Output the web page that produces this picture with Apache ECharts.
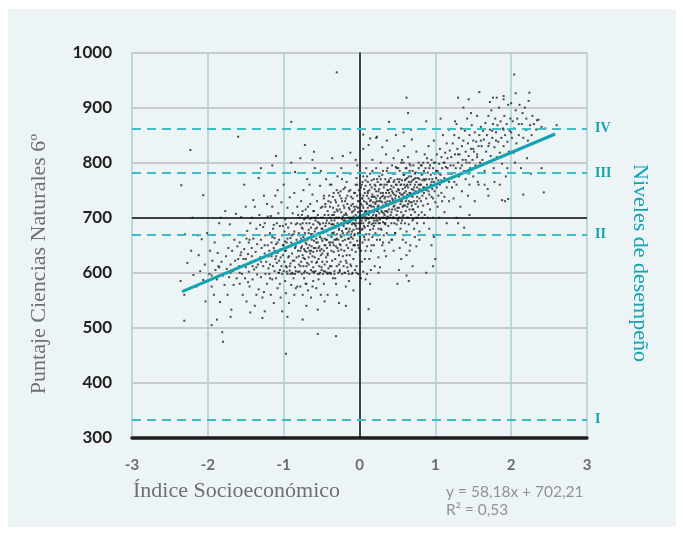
<!DOCTYPE html>
<html><head><meta charset="utf-8">
<script src="https://cdn.jsdelivr.net/npm/echarts@6/dist/echarts.min.js"></script>
<style>
html,body{margin:0;padding:0;background:#fff;}
#panel{position:absolute;left:8px;top:9px;width:668px;height:518px;background:#edf4f6;}
#chart{position:absolute;left:0;top:0;width:683px;height:535px;}
</style></head>
<body><div id="panel"></div><div id="chart"></div>
<script>
// axis ticks
const xTicks = [-3,-2,-1,0,1,2,3];
const yTicks = [300,400,500,600,700,800,900,1000];
// performance levels
const levelNames = ['I','II','III','IV'];
const levelValues = [333, 669, 781, 862];
// regression line (y = 58,18x + 702,21) endpoints
const trendX = [-2.34, 2.58];
const trendY = [566, 852];
const equationText = ['y = 58,18x + 702,21', 'R² = 0,53'];
// scatter points [index, score], grouped by index range
const ptsA = [[-2.36,585],[-2.31,560],[-2.27,618],[-2.22,640],[-2.19,596],[-2.15,575],[-2.12,632],[-2.1,603],[-2.08,661],[-2.06,587],[-2.04,615],[-2.03,548],[-2.01,672],[-2.2,700],[-2.13,668],
[-1.98,598],[-1.97,640],[-1.95,575],[-1.94,622],[-1.92,560],[-1.91,655],[-1.9,605],[-1.88,588],[-1.87,636],[-1.86,612],[-1.84,547],[-1.83,700],[-1.82,620],[-1.8,595],[-1.79,668],[-1.78,578],[-1.76,630],[-1.75,607],[-1.74,560],[-1.73,645],[-1.72,592],[-1.71,688],[-1.7,615],[-1.69,533],[-1.68,640],[-1.67,603],[-1.66,578],[-1.65,660],[-1.64,622],[-1.63,707],[-1.62,590],[-1.61,648],[-1.95,505],[-1.88,515],[-1.77,712]];
const ptsB = [[-1.59,612],[-1.58,655],[-1.58,580],[-1.57,632],[-1.56,701],[-1.55,598],[-1.54,560],[-1.54,668],[-1.53,625],[-1.52,643],[-1.51,590],[-1.5,720],[-1.5,610],[-1.49,548],[-1.48,676],[-1.47,634],[-1.46,602],[-1.46,655],[-1.45,575],[-1.44,690],[-1.43,620],[-1.42,645],[-1.41,588],[-1.4,732],[-1.4,662],[-1.39,606],[-1.38,540],[-1.37,638],[-1.36,680],[-1.35,597],[-1.35,652],[-1.34,615],[-1.33,570],[-1.32,705],[-1.31,628],[-1.3,660],[-1.3,592],[-1.29,645],[-1.28,555],[-1.27,683],[-1.27,612],[-1.26,740],[-1.25,635],[-1.24,598],[-1.24,668],[-1.23,620],[-1.22,580],[-1.21,650],[-1.21,702],[-1.2,608],[-1.52,760],[-1.44,528],[-1.33,772],[-1.28,518],[-1.38,720],[-1.47,583],[-1.42,700],[-1.36,560],[-1.31,687],[-1.26,565],[-1.22,725],[-1.56,637],[-1.49,662],[-1.41,612],[-1.25,690]];
const ptsC = [[-1.19,640],[-1.19,598],[-1.18,672],[-1.18,615],[-1.17,560],[-1.17,703],[-1.16,630],[-1.16,655],[-1.15,588],[-1.15,720],[-1.14,612],[-1.14,680],[-1.13,645],[-1.13,545],[-1.12,603],[-1.12,663],[-1.11,625],[-1.11,740],[-1.1,590],[-1.1,652],[-1.09,690],[-1.09,618],[-1.08,572],[-1.08,636],[-1.07,708],[-1.07,600],[-1.06,660],[-1.06,622],[-1.05,580],[-1.05,685],[-1.04,643],[-1.04,555],[-1.03,612],[-1.03,728],[-1.02,668],[-1.02,598],[-1.01,632],[-1.01,650],[-1.0,603],[-1.0,760],[-0.99,675],[-0.99,620],[-0.98,585],[-0.98,697],[-0.97,640],[-0.97,563],[-0.96,610],[-0.96,655],[-0.95,718],[-0.95,598],[-0.94,628],[-0.94,682],[-0.93,545],[-0.93,647],[-0.92,604],[-0.92,737],[-0.91,663],[-0.91,617],[-0.9,578],[-0.9,690],[-0.89,635],[-0.89,600],[-0.88,652],[-0.88,708],[-0.87,590],[-0.87,670],[-0.86,622],[-0.86,560],[-0.85,645],[-0.85,783],[-0.84,603],[-0.84,688],[-0.83,628],[-0.83,660],[-0.82,575],[-0.82,720],[-0.81,640],[-0.81,602],[-0.8,672],[-0.8,615],[-1.15,795],[-1.02,530],[-0.9,800],[-0.95,520],[-1.08,750],[-0.86,745],[-1.13,687],[-0.98,657],[-0.91,598],[-0.84,572],[-1.06,600],[-0.96,602],[-0.88,598],[-1.18,590],[-1.01,685],[-0.93,670],[-0.82,655],[-1.1,630],[-0.97,612],[-0.85,610]];
const ptsD = [[-0.79,655],[-0.79,700],[-0.79,602],[-0.78,640],[-0.78,688],[-0.78,575],[-0.77,662],[-0.77,620],[-0.77,730],[-0.76,598],[-0.76,648],[-0.76,705],[-0.75,632],[-0.75,560],[-0.75,680],[-0.74,612],[-0.74,665],[-0.74,750],[-0.73,643],[-0.73,590],[-0.73,697],[-0.72,625],[-0.72,672],[-0.72,603],[-0.71,655],[-0.71,715],[-0.71,580],[-0.7,638],[-0.7,690],[-0.7,612],[-0.69,660],[-0.69,770],[-0.69,600],[-0.68,645],[-0.68,703],[-0.68,568],[-0.67,628],[-0.67,678],[-0.67,615],[-0.66,690],[-0.66,650],[-0.66,598],[-0.65,725],[-0.65,635],[-0.65,665],[-0.64,605],[-0.64,682],[-0.64,555],[-0.63,648],[-0.63,700],[-0.63,620],[-0.62,670],[-0.62,602],[-0.62,742],[-0.61,638],[-0.61,688],[-0.61,585],[-0.6,658],[-0.6,712],[-0.6,600],[-0.59,628],[-0.59,675],[-0.59,790],[-0.58,645],[-0.58,603],[-0.58,695],[-0.57,662],[-0.57,618],[-0.57,572],[-0.56,682],[-0.56,640],[-0.56,730],[-0.55,598],[-0.55,655],[-0.55,705],[-0.54,625],[-0.54,672],[-0.54,588],[-0.53,690],[-0.53,648],[-0.53,612],[-0.52,758],[-0.52,665],[-0.52,600],[-0.51,632],[-0.51,700],[-0.51,560],[-0.5,680],[-0.5,643],[-0.5,605],[-0.49,720],[-0.49,658],[-0.49,620],[-0.48,690],[-0.48,598],[-0.48,672],[-0.47,640],[-0.47,740],[-0.47,580],[-0.46,662],[-0.46,705],[-0.46,615],[-0.45,650],[-0.45,602],[-0.45,685],[-0.44,628],[-0.44,770],[-0.44,675],[-0.43,600],[-0.43,695],[-0.43,645],[-0.42,560],[-0.42,712],[-0.42,632],[-0.41,668],[-0.41,608],[-0.41,730],[-0.4,655],[-0.4,690],[-0.4,600],[-0.78,808],[-0.62,805],[-0.7,540],[-0.55,533],[-0.46,548],[-0.66,760],[-0.51,785],[-0.73,600],[-0.6,601],[-0.53,598],[-0.47,603],[-0.42,598],[-0.64,640],[-0.57,700],[-0.49,680],[-0.44,660],[-0.75,712],[-0.68,662],[-0.58,668],[-0.52,688],[-0.45,720],[-0.7,580],[-0.62,575]];
const ptsE = [[-0.39,700],[-0.39,650],[-0.39,612],[-0.38,728],[-0.38,680],[-0.38,598],[-0.37,665],[-0.37,640],[-0.37,760],[-0.36,705],[-0.36,622],[-0.36,688],[-0.35,655],[-0.35,590],[-0.35,718],[-0.34,673],[-0.34,638],[-0.34,745],[-0.33,695],[-0.33,603],[-0.33,660],[-0.32,682],[-0.32,625],[-0.32,732],[-0.31,648],[-0.31,700],[-0.31,580],[-0.3,670],[-0.3,715],[-0.3,612],[-0.29,690],[-0.29,645],[-0.29,775],[-0.28,660],[-0.28,600],[-0.28,722],[-0.27,678],[-0.27,632],[-0.27,700],[-0.26,652],[-0.26,740],[-0.26,605],[-0.25,688],[-0.25,668],[-0.25,620],[-0.24,710],[-0.24,642],[-0.24,790],[-0.23,676],[-0.23,598],[-0.23,730],[-0.22,658],[-0.22,702],[-0.22,630],[-0.21,685],[-0.21,612],[-0.21,752],[-0.2,668],[-0.2,640],[-0.2,718],[-0.19,695],[-0.19,600],[-0.19,660],[-0.18,735],[-0.18,680],[-0.18,622],[-0.17,705],[-0.17,650],[-0.17,765],[-0.16,672],[-0.16,610],[-0.16,725],[-0.15,690],[-0.15,645],[-0.15,700],[-0.14,662],[-0.14,748],[-0.14,598],[-0.13,715],[-0.13,680],[-0.13,632],[-0.12,698],[-0.12,655],[-0.12,780],[-0.11,670],[-0.11,612],[-0.11,738],[-0.1,688],[-0.1,642],[-0.1,710],[-0.09,662],[-0.09,600],[-0.09,725],[-0.08,702],[-0.08,678],[-0.08,625],[-0.07,745],[-0.07,690],[-0.07,650],[-0.06,715],[-0.06,605],[-0.06,670],[-0.05,760],[-0.05,695],[-0.05,638],[-0.04,680],[-0.04,720],[-0.04,612],[-0.03,700],[-0.03,658],[-0.03,795],[-0.02,730],[-0.02,672],[-0.02,598],[-0.01,690],[-0.01,645],[-0.01,750],[-0.36,808],[-0.22,812],[-0.12,818],[-0.05,805],[-0.3,560],[-0.18,575],[-0.08,568],[-0.27,545],[-0.14,585],[-0.38,600],[-0.33,598],[-0.26,602],[-0.2,600],[-0.15,603],[-0.1,598],[-0.04,600],[-0.35,670],[-0.29,712],[-0.24,690],[-0.19,730],[-0.13,700],[-0.07,720],[-0.02,710],[-0.37,688],[-0.31,660],[-0.25,748],[-0.16,690],[-0.11,665],[-0.06,688],[-0.01,700],[-0.34,705],[-0.21,695],[-0.09,690],[-0.03,740],[-0.28,640],[-0.17,632],[-0.06,650],[-0.39,760],[-0.23,770],[-0.04,772],[-0.32,590],[-0.12,615]];
const ptsF = [[0.01,705],[0.01,668],[0.01,742],[0.02,690],[0.02,725],[0.02,640],[0.03,712],[0.03,760],[0.03,678],[0.04,700],[0.04,655],[0.04,735],[0.05,690],[0.05,718],[0.05,775],[0.06,665],[0.06,730],[0.06,705],[0.07,745],[0.07,682],[0.07,625],[0.08,712],[0.08,758],[0.08,695],[0.09,670],[0.09,728],[0.09,790],[0.1,700],[0.1,648],[0.1,740],[0.11,718],[0.11,685],[0.11,765],[0.12,735],[0.12,660],[0.12,705],[0.13,750],[0.13,692],[0.13,722],[0.14,678],[0.14,780],[0.14,710],[0.15,640],[0.15,732],[0.15,700],[0.16,755],[0.16,688],[0.16,720],[0.17,665],[0.17,742],[0.17,805],[0.18,705],[0.18,728],[0.18,680],[0.19,770],[0.19,695],[0.19,650],[0.2,738],[0.2,715],[0.2,760],[0.21,690],[0.21,725],[0.21,672],[0.22,748],[0.22,705],[0.22,790],[0.23,730],[0.23,660],[0.23,712],[0.24,765],[0.24,695],[0.24,740],[0.25,680],[0.25,722],[0.25,628],[0.26,752],[0.26,708],[0.26,775],[0.27,690],[0.27,735],[0.27,660],[0.28,718],[0.28,745],[0.28,800],[0.29,700],[0.29,678],[0.29,760],[0.3,728],[0.3,650],[0.3,710],[0.31,740],[0.31,692],[0.31,785],[0.32,720],[0.32,668],[0.32,755],[0.33,705],[0.33,735],[0.33,640],[0.34,770],[0.34,712],[0.34,688],[0.35,745],[0.35,725],[0.35,815],[0.36,698],[0.36,760],[0.36,672],[0.37,730],[0.37,710],[0.37,790],[0.38,750],[0.38,685],[0.38,738],[0.39,715],[0.39,655],[0.39,768],[0.05,602],[0.1,598],[0.15,605],[0.2,612],[0.08,588],[0.03,620],[0.13,625],[0.25,600],[0.12,832],[0.22,845],[0.3,828],[0.05,825],[0.36,840],[0.02,700],[0.07,702],[0.12,698],[0.17,700],[0.22,703],[0.27,697],[0.32,700],[0.37,702],[0.04,680],[0.09,712],[0.14,730],[0.19,720],[0.24,712],[0.29,738],[0.34,728],[0.39,745],[0.06,752],[0.11,745],[0.16,738],[0.21,758],[0.26,730],[0.31,722],[0.36,712],[0.03,735],[0.18,690],[0.28,680],[0.33,690],[0.38,700],[0.08,640],[0.16,650],[0.24,668],[0.31,655],[0.14,580],[0.27,610],[0.35,630],[0.02,590]];
const ptsG = [[0.41,740],[0.41,705],[0.41,772],[0.42,725],[0.42,690],[0.42,758],[0.43,748],[0.43,715],[0.43,660],[0.44,780],[0.44,732],[0.44,700],[0.45,755],[0.45,720],[0.45,808],[0.46,690],[0.46,742],[0.46,768],[0.47,715],[0.47,735],[0.47,672],[0.48,760],[0.48,728],[0.48,792],[0.49,705],[0.49,748],[0.49,688],[0.5,770],[0.5,730],[0.5,712],[0.51,752],[0.51,822],[0.51,695],[0.52,738],[0.52,765],[0.52,718],[0.53,700],[0.53,785],[0.53,745],[0.54,725],[0.54,680],[0.54,760],[0.55,742],[0.55,710],[0.55,800],[0.56,768],[0.56,730],[0.56,695],[0.57,752],[0.57,720],[0.57,660],[0.58,778],[0.58,738],[0.58,705],[0.59,760],[0.59,745],[0.59,830],[0.6,722],[0.6,690],[0.6,768],[0.61,748],[0.61,712],[0.61,790],[0.62,735],[0.62,675],[0.62,758],[0.63,720],[0.63,772],[0.63,742],[0.64,700],[0.64,810],[0.64,755],[0.65,730],[0.65,765],[0.65,688],[0.66,745],[0.66,715],[0.66,785],[0.67,760],[0.67,728],[0.67,650],[0.68,740],[0.68,775],[0.68,705],[0.69,752],[0.69,722],[0.69,842],[0.7,768],[0.7,695],[0.7,738],[0.71,750],[0.71,715],[0.71,795],[0.72,730],[0.72,770],[0.72,680],[0.73,745],[0.73,760],[0.73,710],[0.74,782],[0.74,725],[0.74,748],[0.75,700],[0.75,765],[0.75,820],[0.76,738],[0.76,755],[0.76,690],[0.77,772],[0.77,720],[0.77,745],[0.78,760],[0.78,705],[0.78,800],[0.79,735],[0.79,752],[0.79,675],[0.45,640],[0.55,625],[0.62,632],[0.7,612],[0.52,605],[0.65,585],[0.48,850],[0.58,855],[0.68,860],[0.44,700],[0.5,698],[0.57,702],[0.63,700],[0.71,698],[0.77,700],[0.47,672],[0.59,668],[0.73,665],[0.42,660],[0.61,655],[0.75,648],[0.53,645],[0.66,640],[0.79,660]];
const ptsH = [[0.81,760],[0.81,730],[0.81,795],[0.82,748],[0.82,778],[0.82,710],[0.83,768],[0.83,740],[0.84,800],[0.84,755],[0.84,722],[0.85,785],[0.85,745],[0.86,768],[0.86,705],[0.86,815],[0.87,752],[0.87,790],[0.88,735],[0.88,770],[0.89,808],[0.89,760],[0.9,725],[0.9,782],[0.91,748],[0.91,830],[0.92,770],[0.92,742],[0.93,795],[0.93,715],[0.94,760],[0.94,778],[0.95,805],[0.95,738],[0.96,770],[0.96,752],[0.97,790],[0.97,700],[0.98,765],[0.98,840],[0.99,748],[0.99,780],[1.0,728],[1.0,800],[1.01,772],[1.02,755],[1.02,815],[1.03,785],[1.04,740],[1.04,768],[1.05,798],[1.06,760],[1.06,825],[1.07,778],[1.08,745],[1.08,810],[1.09,790],[1.1,765],[1.1,850],[1.11,800],[1.12,772],[1.12,738],[1.13,818],[1.14,792],[1.15,755],[1.15,835],[1.16,808],[1.17,780],[1.18,860],[1.18,765],[1.19,822],[1.2,795],[0.85,690],[0.92,680],[0.98,665],[1.05,700],[1.12,710],[0.95,650],[1.0,625],[0.88,875],[1.07,880],[1.15,690],[0.83,700],[1.03,720],[0.9,700],[1.18,730],[0.97,735],[1.09,730]];
const ptsI = [[1.21,810],[1.22,780],[1.23,835],[1.24,795],[1.25,765],[1.25,850],[1.26,815],[1.27,790],[1.28,870],[1.28,760],[1.29,825],[1.3,800],[1.31,845],[1.31,775],[1.32,815],[1.33,790],[1.34,862],[1.35,830],[1.35,748],[1.36,805],[1.37,840],[1.38,785],[1.39,858],[1.4,820],[1.4,770],[1.41,800],[1.42,880],[1.43,835],[1.44,812],[1.45,760],[1.45,850],[1.46,790],[1.47,825],[1.48,868],[1.49,805],[1.5,840],[1.5,775],[1.51,820],[1.52,855],[1.53,795],[1.54,838],[1.55,810],[1.55,885],[1.56,765],[1.57,830],[1.58,850],[1.59,800],[1.6,865],[1.24,735],[1.33,720],[1.43,740],[1.52,730],[1.28,700],[1.38,682],[1.22,755],[1.47,890],[1.37,900],[1.26,875],[1.57,760],[1.44,780],
[1.61,830],[1.62,805],[1.63,858],[1.64,842],[1.65,785],[1.66,872],[1.67,820],[1.68,850],[1.69,800],[1.7,885],[1.71,835],[1.72,860],[1.73,812],[1.74,895],[1.75,845],[1.76,870],[1.77,790],[1.78,828],[1.79,880],[1.8,855],[1.81,810],[1.82,868],[1.83,838],[1.84,900],[1.85,818],[1.86,875],[1.87,845],[1.88,798],[1.89,862],[1.9,830],[1.91,885],[1.92,850],[1.93,775],[1.94,870],[1.95,838],[1.96,905],[1.97,820],[1.98,858],[1.99,880],[1.65,760],[1.78,765],[1.85,760],[1.72,910],[1.9,915],[1.95,790],
[2.01,845],[2.02,875],[2.03,818],[2.04,862],[2.06,895],[2.07,835],[2.08,880],[2.1,850],[2.11,905],[2.12,825],[2.14,870],[2.15,890],[2.16,845],[2.18,900],[2.19,860],[2.2,880],[2.22,840],[2.23,912],[2.25,868],[2.27,850],[2.28,885],[2.3,870],[2.33,860],[2.36,878],[2.4,865],[2.05,800],[2.13,790],[2.21,808],[2.26,780],[2.45,862]];
const ptsCore = [[-0.98,640],[-0.95,662],[-0.93,630],[-0.9,655],[-0.88,622],[-0.86,675],[-0.84,648],[-0.82,690],[-0.8,630],[-0.79,668],[-0.77,645],[-0.76,682],[-0.74,627],[-0.73,660],[-0.71,700],[-0.7,652],[-0.69,618],[-0.67,672],[-0.66,640],[-0.65,698],[-0.63,660],[-0.62,630],[-0.61,712],[-0.6,645],[-0.58,680],[-0.57,655],[-0.56,620],[-0.55,692],[-0.53,670],[-0.52,640],[-0.51,718],[-0.5,662],[-0.49,635],[-0.48,700],[-0.47,675],[-0.46,650],[-0.45,725],[-0.44,690],[-0.43,660],[-0.42,635],[-0.41,705],[-0.4,680],[-0.39,720],[-0.38,655],[-0.37,695],[-0.36,672],[-0.35,738],[-0.34,650],[-0.33,710],[-0.32,685],[-0.31,728],[-0.3,662],[-0.29,700],[-0.28,745],[-0.27,680],[-0.26,715],[-0.25,650],[-0.24,735],[-0.23,698],[-0.22,672],[-0.21,722],[-0.2,690],[-0.19,755],[-0.18,708],[-0.17,680],[-0.16,740],[-0.15,662],[-0.14,718],[-0.13,692],[-0.12,750],[-0.11,700],[-0.1,675],[-0.09,735],[-0.08,712],[-0.07,668],[-0.06,745],[-0.05,705],[-0.04,690],[-0.03,760],[-0.02,718],[-0.01,680],[0.0,730],[0.01,712],[0.02,755],[0.03,695],[0.04,722],[0.05,740],[0.06,685],[0.07,710],[0.08,768],[0.09,698],[0.1,725],[0.11,748],[0.12,690],[0.13,712],[0.14,760],[0.15,722],[0.16,700],[0.17,785],[0.18,738],[0.19,710],[0.2,752],[0.21,728],[0.22,695],[0.23,770],[0.24,720],[0.25,748],[0.26,700],[0.27,760],[0.28,730],[0.29,712],[0.3,778],[0.31,745],[0.32,708],[0.33,760],[0.34,738],[0.35,700],[0.36,785],[0.37,750],[0.38,722],[0.39,765],[0.4,730],[0.41,752],[0.42,710],[0.43,795],[0.44,745],[0.45,765],[0.46,722],[0.47,780],[0.48,740],[0.49,760],[0.5,718],[0.51,790],[0.52,750],[0.53,770],[0.54,730],[0.55,760],[0.56,805],[0.57,742],[0.58,722],[0.59,778],[0.6,755],[0.61,730],[0.62,790],[0.63,760],[0.64,740],[0.65,775],[0.66,798],[0.67,745],[0.68,765],[0.69,728],[0.7,785],[0.72,755],[0.74,772],[0.76,745],[0.78,790],[0.8,760],[0.83,780],[0.86,755],[0.9,800],
[-1.05,605],[-1.0,650],[-0.97,688],[-0.92,612],[-0.89,668],[-0.85,598],[-0.81,705],[-0.78,612],[-0.75,690],[-0.72,640],[-0.68,720],[-0.64,670],[-0.61,610],[-0.59,700],[-0.54,645],[-0.5,610],[-0.47,735],[-0.43,620],[-0.4,740],[-0.37,612],[-0.34,688],[-0.3,750],[-0.27,615],[-0.24,665],[-0.2,705],[-0.17,618],[-0.14,675],[-0.11,722],[-0.08,650],[-0.05,685],[-0.02,650],[0.01,690],[0.04,765],[0.07,660],[0.1,775],[0.13,670],[0.16,768],[0.19,685],[0.22,735],[0.25,690],[0.28,770],[0.31,700],[0.34,690],[0.37,765],[0.4,700],[0.43,735],[0.46,700],[0.49,790],[0.52,700],[0.55,690],[0.58,800],[0.61,770],[0.64,725],[0.67,795],[0.7,715],[0.73,780],[0.76,730],[0.79,770],[0.82,795],[0.85,770],[0.88,750],[0.92,790],[0.95,765],[0.98,800],[1.01,785],[1.05,780],[1.08,768],[1.12,800],[1.16,790],[1.2,780],[-1.3,620],[-1.25,650],[-1.2,630],[-1.15,665],[-1.12,640],[-1.08,655],[-1.04,628],[-1.58,600],[-1.5,625],[-1.42,630],[-1.36,610],[-1.45,660],[-1.7,600],[-1.85,610],[-1.95,595],[-1.6,625],[1.3,815],[1.4,805],[1.5,825],[1.6,840],[1.7,830],[1.8,840],[1.9,860],[2.0,855],[2.1,870],[2.2,860],[1.35,795],[1.55,815],[1.75,858],[1.45,800]];
const ptsOutliers = [[-0.3,964],[2.04,960],[-2.23,823],[-1.6,847],[-0.9,874],[-1.1,812],[-2.35,759],[-2.06,741],[-2.31,513],[-1.8,475],[-1.81,492],[-0.97,453],[-0.31,485],[-0.55,489],[0.12,534],[2.43,746],[2.16,742],[1.88,732],[1.92,730],[1.96,734],[1.69,752],[1.7,740],[2.24,927],[2.0,908],[2.06,926],[1.58,928],[1.3,918],[1.44,915],[1.76,918],[1.81,918],[1.9,921],[2.34,877],[2.6,868],[0.62,918],[0.64,890],[0.39,874],[0.05,851],[0.14,844],[0.23,847],[-1.85,690],[-2.3,670],[-1.7,520],[-1.25,530],[-0.75,515],[-0.18,540],[0.5,580],[0.62,595],[0.97,612],[0.88,600],[1.45,705],[1.3,690],[2.4,790],[-0.6,820],[-1.3,790],[-0.72,832]];

const allPoints = [].concat(ptsA, ptsB, ptsC, ptsD, ptsE, ptsF, ptsG, ptsH, ptsI, ptsCore, ptsOutliers);

const TEAL = '#14a3b1';
const DASH = '#3fbcc6';
const serif = '"Liberation Serif", "DejaVu Serif", serif';

const chart = echarts.init(document.getElementById('chart'), null, {renderer: 'canvas'});
chart.setOption({
  backgroundColor: 'transparent',
  animation: false,
  grid: {left: 132, right: 96, top: 52.5, bottom: 97, containLabel: false},
  xAxis: {
    type: 'value', min: xTicks[0], max: xTicks[xTicks.length - 1], interval: 1,
    axisLine: {show: true, onZero: false, lineStyle: {color: '#1e1e1e', width: 3.5}},
    axisTick: {show: false},
    axisLabel: {color: '#6b6b6b', fontFamily: 'Lato', fontWeight: 'bold', fontSize: 15, margin: 20},
    splitLine: {show: true, lineStyle: {color: '#a9cfd8', width: 1.5}}
  },
  yAxis: {
    type: 'value', min: yTicks[0], max: yTicks[yTicks.length - 1], interval: 100,
    axisLine: {show: false},
    axisTick: {show: false},
    axisLabel: {color: '#231f20', fontFamily: 'Lato', fontWeight: 'bold', fontSize: 17, margin: 20,
                formatter: v => String(v)},
    splitLine: {show: true, lineStyle: {color: '#bdbfc0', width: 1.5}}
  },
  series: [
    {
      type: 'scatter', data: allPoints, symbol: 'rect', symbolSize: 2,
      itemStyle: {color: '#1f1f1f'}, z: 3,
      markLine: {
        silent: true, symbol: 'none', animation: false,
        lineStyle: {color: '#111', width: 1.5, type: 'solid'},
        label: {show: false},
        data: [{xAxis: 0}, {yAxis: 700}]
      }
    },
    {
      type: 'line', data: [], z: 2,
      markLine: {
        silent: true, symbol: 'none', animation: false,
        lineStyle: {color: DASH, width: 2, type: [9, 6]},
        label: {show: true, position: 'end', distance: 8, color: TEAL,
                fontFamily: serif, fontWeight: 'bold', fontSize: 14},
        data: levelValues.map((v, i) => ({yAxis: v, label: {formatter: levelNames[i]}}))
      }
    },
    {
      type: 'line', data: trendX.map((x, i) => [x, trendY[i]]), showSymbol: false, z: 4,
      lineStyle: {color: TEAL, width: 3}
    }
  ],
  graphic: [
    {type: 'text', left: 133, top: 480, style: {text: 'Índice Socioeconómico', fill: '#6f6f6f', font: '22px ' + serif}},
    {type: 'text', x: 39, y: 264, rotation: Math.PI / 2,
      style: {text: 'Puntaje Ciencias Naturales 6º', fill: '#6f6f6f', font: '22px ' + serif, align: 'center', verticalAlign: 'middle'}},
    {type: 'text', x: 640, y: 263, rotation: -Math.PI / 2,
      style: {text: 'Niveles de desempeño', fill: TEAL, font: '22px ' + serif, align: 'center', verticalAlign: 'middle'}},
    {type: 'text', left: 446, top: 484, style: {text: equationText[0], fill: '#929292', font: '15.5px Lato'}},
    {type: 'text', left: 446, top: 502, style: {text: equationText[1], fill: '#929292', font: '15.5px Lato'}}
  ]
});
</script></body></html>
